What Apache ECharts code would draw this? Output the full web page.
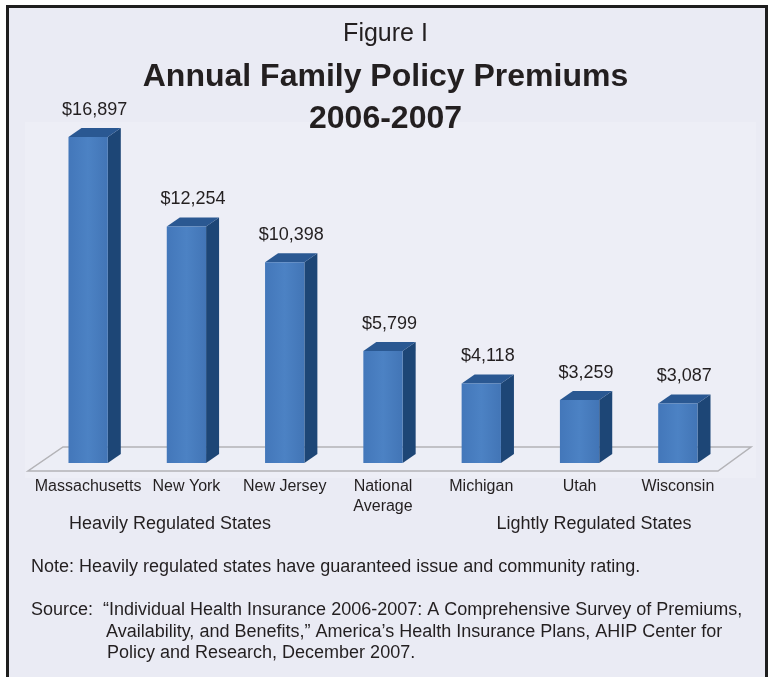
<!DOCTYPE html>
<html>
<head>
<meta charset="utf-8">
<script src="https://cdn.jsdelivr.net/npm/echarts@6/dist/echarts.min.js"></script>
<style>
  html, body { margin: 0; padding: 0; background: #ffffff; }
  #chart { width: 771px; height: 677px; }
</style>
</head>
<body>
<div id="chart"></div>
<script>
// data
var states = ['Massachusetts', 'New York', 'New Jersey', 'National\nAverage', 'Michigan', 'Utah', 'Wisconsin'];
var premiums = [16897, 12254, 10398, 5799, 4118, 3259, 3087];
var groupLabels = ['Heavily Regulated States', 'Lightly Regulated States'];
var noteText = 'Note: Heavily regulated states have guaranteed issue and community rating.';
var sourceLines = [
    'Source:',
    '\u201CIndividual Health Insurance 2006-2007: A Comprehensive Survey of Premiums,',
    'Availability, and Benefits,\u201D America\u2019s Health Insurance Plans, AHIP Center for',
    'Policy and Research, December 2007.'
];

var FONT = '"Liberation Sans", Arial, Helvetica, sans-serif';
var TXT = '#231f20';
var DX = 13, DY = -9; // bar depth

function fmtMoney(v) {
    return '$' + v.toString().replace(/\B(?=(\d{3})+(?!\d))/g, ',');
}

// 3d looking bar: front face, side face, top face + value label
function renderBar(params, api) {
    var idx = api.value(0), val = api.value(1);
    var base = api.coord([idx, 0]);
    var top = api.coord([idx, val]);
    var w = api.size([1, 0])[0] * 0.4;
    var x0 = base[0] - w / 2, x1 = base[0] + w / 2;
    var yb = base[1], yt = top[1];
    return {
        type: 'group',
        children: [
            {
                type: 'polygon',
                shape: { points: [[x1, yt], [x1 + DX, yt + DY], [x1 + DX, yb + DY], [x1, yb]] },
                style: { fill: '#1d4676' }
            },
            {
                type: 'polygon',
                shape: { points: [[x0, yt], [x1, yt], [x1 + DX, yt + DY], [x0 + DX, yt + DY]] },
                style: { fill: '#2a5892' }
            },
            {
                type: 'rect',
                shape: { x: x0, y: yt, width: w, height: yb - yt },
                style: {
                    fill: new echarts.graphic.LinearGradient(0, 0, 1, 0, [
                        { offset: 0, color: '#4377ba' },
                        { offset: 0.5, color: '#4c82c4' },
                        { offset: 1, color: '#4275b6' }
                    ])
                }
            },
            {
                type: 'text',
                style: {
                    x: base[0] + DX / 2, y: yt + DY - 18,
                    text: fmtMoney(val),
                    fill: TXT, font: '18px ' + FONT,
                    align: 'center', verticalAlign: 'middle'
                }
            }
        ]
    };
}

// grey floor under the bars, taken from the grid rect
function renderFloor(params, api) {
    var cs = params.coordSys;
    var l = cs.x, r = cs.x + cs.width, b = cs.y + cs.height;
    return {
        type: 'polygon',
        shape: { points: [[l - 11, b + 8], [r - 9, b + 8], [r + 24, b - 16], [l + 24, b - 16]] },
        style: { fill: '#eceef6', stroke: '#b3b3b7', lineWidth: 1.5 }
    };
}

var graphics = [
    { type: 'rect', shape: { x: 0, y: 0, width: 771, height: 677 }, style: { fill: '#ffffff' }, z: -20 },
    { type: 'rect', shape: { x: 7.5, y: 6.5, width: 759, height: 700 }, style: { fill: '#eaebf4', stroke: '#1e1e1e', lineWidth: 3 }, z: -19 },
    { type: 'rect', shape: { x: 25, y: 122, width: 731, height: 356 }, style: { fill: '#edeef6' }, z: -18 },
    { type: 'text', x: 170, y: 524, style: { text: groupLabels[0], fill: TXT, font: '18px ' + FONT, align: 'center', verticalAlign: 'middle' } },
    { type: 'text', x: 594, y: 524, style: { text: groupLabels[1], fill: TXT, font: '18px ' + FONT, align: 'center', verticalAlign: 'middle' } },
    { type: 'text', x: 31, y: 567, style: { text: noteText, fill: TXT, font: '18px ' + FONT, verticalAlign: 'middle' } },
    { type: 'text', x: 31, y: 610, style: { text: sourceLines[0], fill: TXT, font: '18px ' + FONT, verticalAlign: 'middle' } },
    { type: 'text', x: 103, y: 610, style: { text: sourceLines[1], fill: TXT, font: '18px ' + FONT, verticalAlign: 'middle' } },
    { type: 'text', x: 106, y: 632, style: { text: sourceLines[2], fill: TXT, font: '18px ' + FONT, verticalAlign: 'middle' } },
    { type: 'text', x: 107, y: 653, style: { text: sourceLines[3], fill: TXT, font: '18px ' + FONT, verticalAlign: 'middle' } }
];

var option = {
    animation: false,
    title: [
        {
            text: 'Figure I',
            left: 'center', top: 19, padding: 0,
            textStyle: { fontFamily: FONT, fontSize: 25, fontWeight: 'normal', color: TXT, lineHeight: 30 }
        },
        {
            text: 'Annual Family Policy Premiums',
            left: 'center', top: 56, padding: 0,
            textStyle: { fontFamily: FONT, fontSize: 32, fontWeight: 'bold', color: TXT, lineHeight: 42 }
        },
        {
            text: '2006-2007',
            left: 'center', top: 98, padding: 0,
            textStyle: { fontFamily: FONT, fontSize: 32, fontWeight: 'bold', color: TXT, lineHeight: 42 }
        }
    ],
    graphic: graphics,
    grid: { left: 39, width: 688, top: 77, height: 386 },
    xAxis: {
        type: 'category',
        data: states,
        axisLine: { show: false },
        axisTick: { show: false },
        axisLabel: { fontFamily: FONT, fontSize: 16, color: TXT, margin: 14, lineHeight: 20, interval: 0 }
    },
    yAxis: {
        type: 'value',
        min: 0, max: 20000,
        show: false,
        splitLine: { show: false }
    },
    series: [
        {
            type: 'custom',
            renderItem: renderFloor,
            data: [[0]],
            z: 1,
            silent: true
        },
        {
            type: 'custom',
            renderItem: renderBar,
            data: premiums.map(function (v, i) { return [i, v]; }),
            z: 2
        }
    ]
};

var chart = echarts.init(document.getElementById('chart'));
chart.setOption(option);
</script>
</body>
</html>
